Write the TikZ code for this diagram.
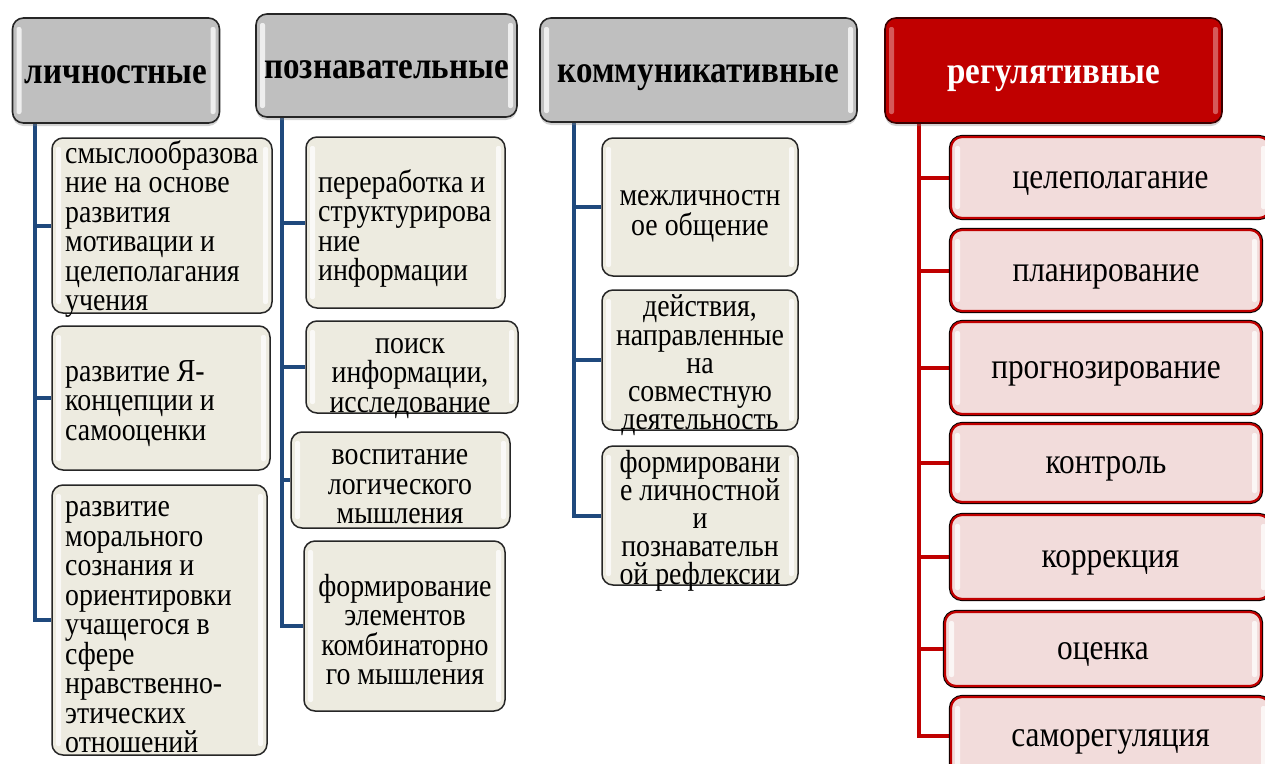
\documentclass[tikz,border=0pt]{standalone}
\usepackage{fontspec}
\setmainfont{Liberation Serif}[FakeStretch=0.87]
\usetikzlibrary{backgrounds,shadows,calc}
\definecolor{hdrgray}{HTML}{BFBFBF}
\definecolor{beige}{HTML}{EDEBE0}
\definecolor{redmain}{HTML}{C00000}
\definecolor{pinkfill}{HTML}{F2DCDB}
\definecolor{navy}{HTML}{1F497D}
\lineskiplimit=-50pt\relax
\lineskip=0pt\relax
\tikzset{
  gloss/.style={path picture={
    \fill[white,opacity=#1,rounded corners=2pt]
      ([xshift=4pt,yshift=-9pt]path picture bounding box.north west) rectangle
      ([xshift=9pt,yshift=9pt]path picture bounding box.south west);
    \fill[white,opacity=#1,rounded corners=2pt]
      ([xshift=-4pt,yshift=-9pt]path picture bounding box.north east) rectangle
      ([xshift=-9pt,yshift=9pt]path picture bounding box.south east);
  }},
  gloss/.default=0.75,
  hdr/.style={draw=black!85, line width=1.6pt, fill=hdrgray, rounded corners=11pt,
    inner sep=0pt, gloss, text height=25pt, text depth=0pt,
    font=\bfseries\fontsize{38}{42}\selectfont,
    drop shadow={opacity=0.35, shadow xshift=0pt, shadow yshift=-3pt}},
  rhdr/.style={hdr, fill=redmain, draw=black!70!redmain, text=white, gloss=0.35},
  kid/.style={draw=black!85, line width=1.5pt, fill=beige, rounded corners=11pt,
    inner sep=0pt, gloss},
  rkid/.style={preaction={draw=black, line width=4.2pt}, fill=pinkfill, draw=redmain,
    line width=2.2pt, rounded corners=11pt, inner sep=0pt, gloss,
    text height=21pt, text depth=0pt, font=\fontsize{36}{40}\selectfont},
  txt/.style={inner sep=0pt, font=\fontsize{32}{29.5}\selectfont},
  bl/.style={draw=navy, line width=4pt},
  rl/.style={draw=redmain, line width=4pt}
}
\begin{document}
\begin{tikzpicture}[x=1pt,y=-1pt]
\useasboundingbox (0,0) rectangle (1265,763);
\clip (0,0) rectangle (1265,763);
% headers
\node[hdr, minimum width=207pt, minimum height=105pt] (lich) at (116,70.5) {личностные};
\node[hdr, minimum width=261pt, minimum height=103pt] (pozn) at (386.5,65.5) {познавательные};
\node[hdr, minimum width=317pt, minimum height=104pt] (komm) at (698.5,70) {коммуникативные};
\node[rhdr, minimum width=337pt, minimum height=105pt] (reg) at (1053.5,70.5) {регулятивные};
% column 1
\node[kid, minimum width=220pt, minimum height=175pt] (l1) at (162,225.5) {};
\node[kid, minimum width=218pt, minimum height=144pt] (l2) at (161,398) {};
\node[kid, minimum width=215pt, minimum height=270pt] (l3) at (159.5,620) {};
\node[txt, anchor=west, align=left] (l1t) at (65,229) {смыслообразова\\ние на основе\\развития\\мотивации и\\целеполагания\\учения};
\node[txt, anchor=west, align=left] (l2t) at (65,403.5) {развитие Я-\\концепции и\\самооценки};
\node[txt, anchor=west, align=left] (l3t) at (65,627.5) {развитие\\морального\\сознания и\\ориентировки\\учащегося в\\сфере\\нравственно-\\этических\\отношений};
% column 2
\node[kid, minimum width=199pt, minimum height=171pt] (p1) at (405.5,222.5) {};
\node[kid, minimum width=212pt, minimum height=92pt] (p2) at (412,367) {};
\node[kid, minimum width=219pt, minimum height=96pt] (p3) at (400.5,480) {};
\node[kid, minimum width=201pt, minimum height=170pt] (p4) at (404.5,626) {};
\node[txt, anchor=west, align=left] (p1t) at (318,228.5) {переработка и\\структурирова\\ние\\информации};
\node[txt, align=center] (p2t) at (410,378.5) {поиск\\информации,\\исследование};
\node[txt, align=center] (p3t) at (400,487) {воспитание\\логического\\мышления};
\node[txt, align=center] (p4t) at (405,629.5) {формирование\\элементов\\комбинаторно\\го мышления};
% column 3
\node[kid, minimum width=196pt, minimum height=138pt] (k1) at (700,207) {};
\node[kid, minimum width=196pt, minimum height=140pt] (k2) at (700,360) {};
\node[kid, minimum width=196pt, minimum height=139pt] (k3) at (700,515.5) {};
\node[txt, align=center] (k1t) at (700,216.5) {межличностн\\ое общение};
\node[txt, align=center, font=\fontsize{32}{28.3}\selectfont] (k2t) at (700,365.5) {действия,\\направленные\\на\\совместную\\деятельность};
\node[txt, align=center, font=\fontsize{32}{28}\selectfont] (k3t) at (700,520.5) {формировани\\е личностной\\и\\познавательн\\ой рефлексии};
% column 4
\node[rkid, minimum width=319pt, minimum height=81pt] (r1) at (1110.5,177.5) {целеполагание};
\node[rkid, minimum width=310pt, minimum height=81pt] (r2) at (1106,270.5) {планирование};
\node[rkid, minimum width=310pt, minimum height=92pt] (r3) at (1106,368) {прогнозирование};
\node[rkid, minimum width=310pt, minimum height=78pt] (r4) at (1106,463) {контроль};
\node[rkid, minimum width=319pt, minimum height=84pt] (r5) at (1110.5,557) {коррекция};
\node[rkid, minimum width=316pt, minimum height=74pt] (r6) at (1103,649) {оценка};
\node[rkid, minimum width=319pt, minimum height=78pt] (r7) at (1110.5,736) {саморегуляция};
% trunk tops
\coordinate (c1) at ([xshift=23pt]lich.south west);
\coordinate (c2) at ([xshift=27pt]pozn.south west);
\coordinate (c3) at ([xshift=35pt]komm.south west);
\coordinate (c4) at ([xshift=35pt]reg.south west);
\begin{scope}[on background layer]
  \draw[bl] (c1) |- (l3.west);
  \draw[bl] (l1.west -| c1) -- (l1.west);
  \draw[bl] (l2.west -| c1) -- (l2.west);
  \draw[bl] (c2) |- (p4.west);
  \draw[bl] (p1.west -| c2) -- (p1.west);
  \draw[bl] (p2.west -| c2) -- (p2.west);
  \draw[bl] (p3.west -| c2) -- (p3.west);
  \draw[bl] (c3) |- (k3.west);
  \draw[bl] (k1.west -| c3) -- (k1.west);
  \draw[bl] (k2.west -| c3) -- (k2.west);
  \draw[rl] (c4) |- (r7.west);
  \draw[rl] (r1.west -| c4) -- (r1.west);
  \draw[rl] (r2.west -| c4) -- (r2.west);
  \draw[rl] (r3.west -| c4) -- (r3.west);
  \draw[rl] (r4.west -| c4) -- (r4.west);
  \draw[rl] (r5.west -| c4) -- (r5.west);
  \draw[rl] (r6.west -| c4) -- (r6.west);
\end{scope}
\end{tikzpicture}
\end{document}
